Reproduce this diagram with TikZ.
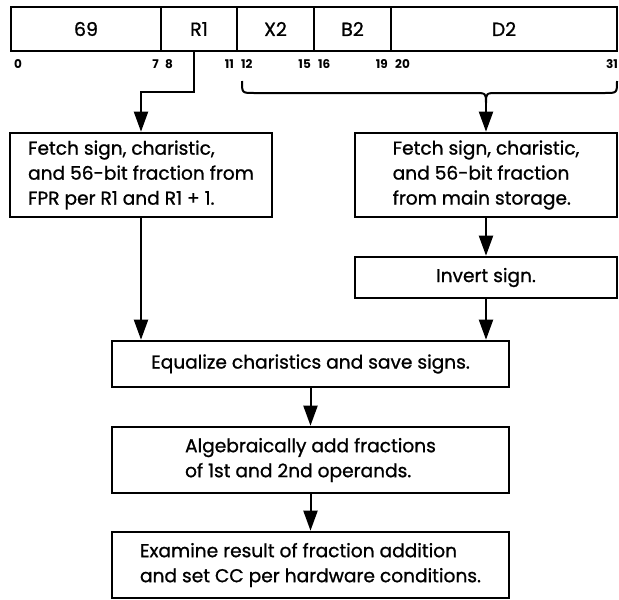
\documentclass[tikz,border=0pt]{standalone}
\usepackage{fontspec}
\setmainfont{Poppins}[UprightFeatures={FakeBold=1}]
\usetikzlibrary{arrows.meta}

\tikzset{
  field/.style={draw, line width=2.2pt, minimum height=44pt, inner sep=0pt,
    font=\fontsize{19}{20}\selectfont},
  bitno/.style={inner sep=0pt, font=\fontsize{12}{13}\selectfont\bfseries},
  stepbox/.style={draw, line width=2.6pt, inner sep=0pt, align=left,
    font=\fontsize{18.6}{25}\selectfont},
  flow/.style={line width=2pt, -{Triangle[width=14pt,length=20pt]}},
}

\begin{document}
\begin{tikzpicture}[x=1pt, y=-1pt]
\useasboundingbox (0,0) rectangle (619,600);

% instruction format fields
\node[field, minimum width=150pt] (f69) at (86,29) {69};
\node[field, minimum width=76pt]  (fR1) at (199,29) {R1};
\node[field, minimum width=77pt]  (fX2) at (275.5,29) {X2};
\node[field, minimum width=77pt]  (fB2) at (352.5,29) {B2};
\node[field, minimum width=226pt] (fD2) at (504,29) {D2};

% bit positions
\node[bitno, anchor=west] (b0)  at (14,64) {0};
\node[bitno, anchor=east] (b7)  at (159,64) {7};
\node[bitno, anchor=west] (b8)  at (165,64) {8};
\node[bitno, anchor=east] (b11) at (234,64) {11};
\node[bitno, anchor=west] (b12) at (241,64) {12};
\node[bitno, anchor=east] (b15) at (311,64) {15};
\node[bitno, anchor=west] (b16) at (318,64) {16};
\node[bitno, anchor=east] (b19) at (388,64) {19};
\node[bitno, anchor=west] (b20) at (395,64) {20};
\node[bitno, anchor=east] (b31) at (618,64) {31};

% processing steps
\node[stepbox, minimum width=262pt, minimum height=84pt] (fetchL) at (141,175)
  {Fetch sign, charistic,\\and 56-bit fraction from\\FPR per R1 and R1 + 1.};
\node[stepbox, minimum width=262pt, minimum height=84pt] (fetchR) at (486,175)
  {Fetch sign, charistic,\\and 56-bit fraction\\from main storage.};
\node[stepbox, minimum width=262pt, minimum height=41pt] (invert) at (486,277.5)
  {Invert sign.};
\node[stepbox, minimum width=397pt, minimum height=46pt] (equal) at (310.5,364)
  {Equalize charistics and save signs.};
\node[stepbox, minimum width=397pt, minimum height=66pt] (alg) at (310.5,460)
  {Algebraically add fractions\\of 1st and 2nd operands.};
\node[stepbox, minimum width=397pt, minimum height=66pt] (exam) at (310.5,565)
  {Examine result of fraction addition\\and set CC per hardware conditions.};

% R1 field feeds the first operand fetch
\coordinate (r1tap) at (194,51);
\coordinate (r1bend) at (194,92);
\draw[flow] (r1tap) -- (r1bend) -| (fetchL.north);

% brace under X2, B2, D2
\coordinate (braceL) at (242,81);
\coordinate (braceR) at (617,81);
\coordinate (braceTip) at (486,103);
\draw[line width=2pt] (braceL) .. controls (242,93) .. (254,93) -- (474,93)
  .. controls (486,93) .. (braceTip) .. controls (486,93) .. (498,93) -- (605,93)
  .. controls (617,93) .. (braceR);
\draw[flow] (braceTip) -- (fetchR.north);

% flow between steps
\draw[flow] (fetchR.south) -- (invert.north);
\draw[flow] (fetchL.south) -- (fetchL.south |- equal.north);
\draw[flow] (invert.south) -- (invert.south |- equal.north);
\draw[flow] (equal.south) -- (alg.north);
\draw[flow] (alg.south) -- (exam.north);
\end{tikzpicture}
\end{document}
